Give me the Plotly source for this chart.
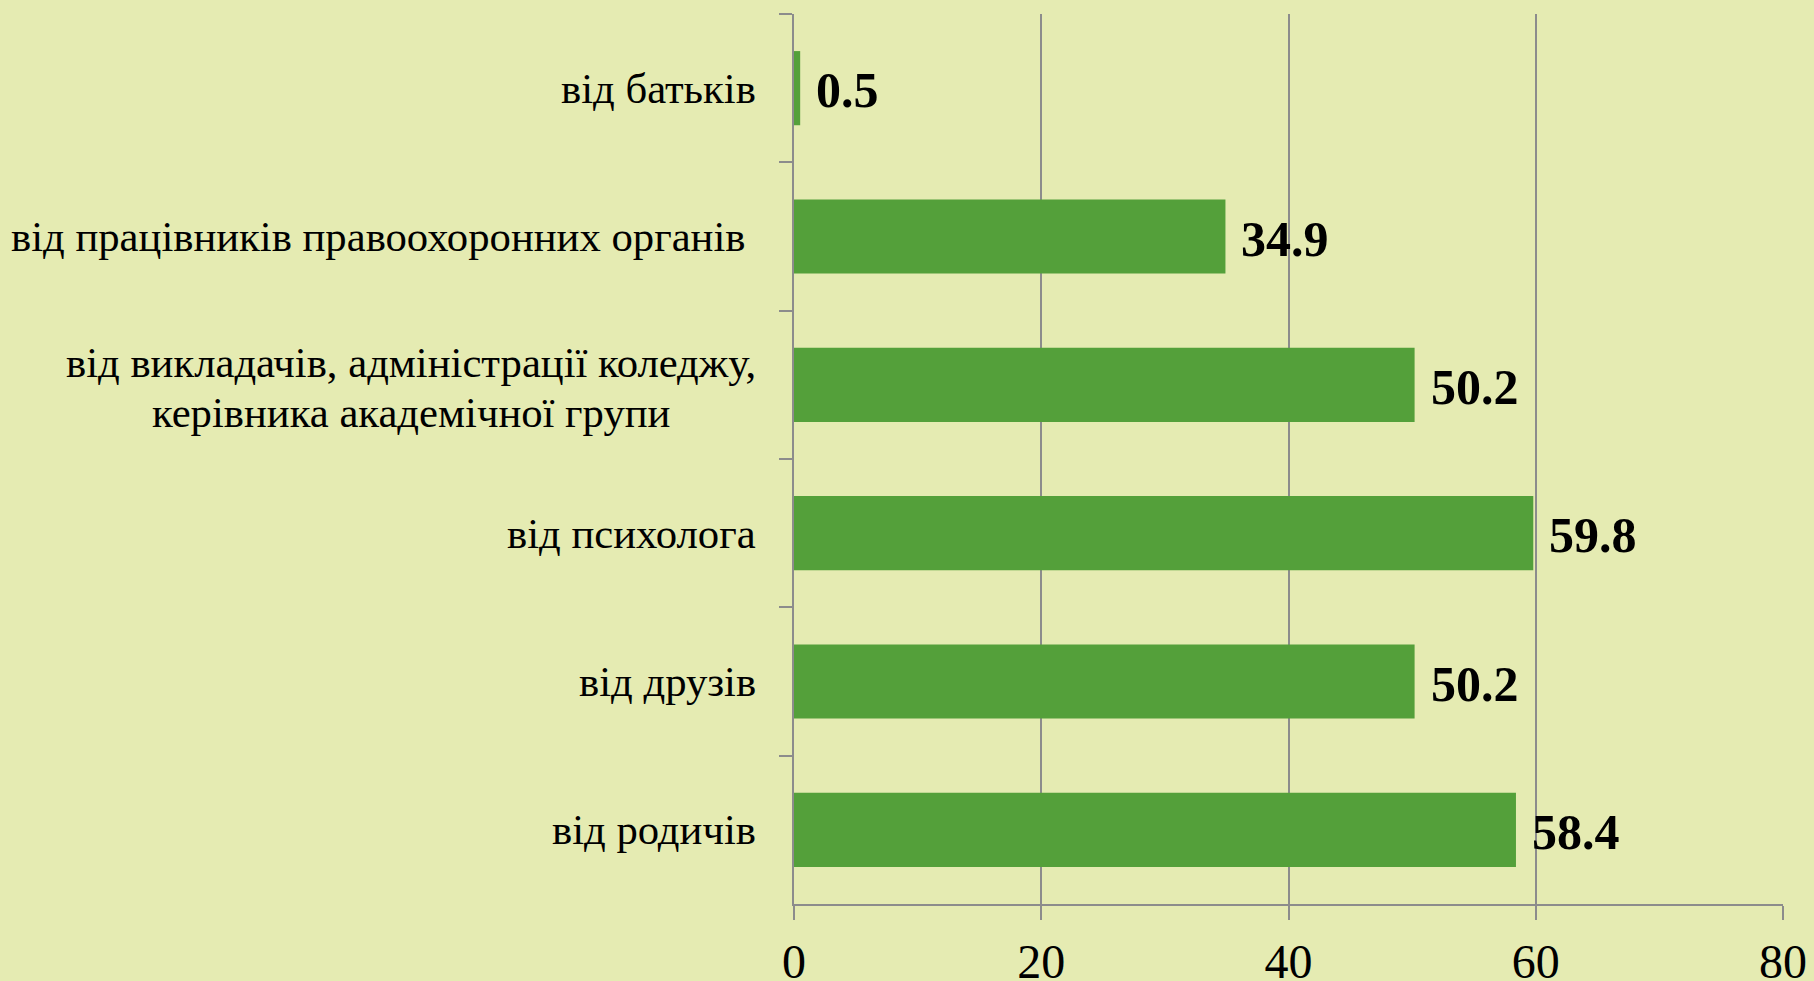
import plotly.graph_objects as go

categories = [
    "від батьків",
    "від працівників правоохоронних органів ",
    "від викладачів, адміністрації коледжу,<br>керівника академічної групи",
    "від психолога",
    "від друзів",
    "від родичів",
]
values = [0.5, 34.9, 50.2, 59.8, 50.2, 58.4]
x_ticks = [0, 20, 40, 60, 80]

BG = "#E5EBB2"
BAR = "#54A03A"
GRID = "#8C8C8C"
FONT = "Liberation Serif, Times New Roman, serif"

fig = go.Figure()
fig.add_trace(go.Bar(
    x=values, y=categories, orientation="h",
    marker=dict(color=BAR, line=dict(width=0)),
    hoverinfo="skip",
))

for c, v in zip(categories, values):
    fig.add_annotation(
        x=v, y=c, xref="x", yref="y", text=f"<b>{v:g}</b>",
        showarrow=False, xanchor="left", yanchor="middle", xshift=14, yshift=-2,
        font=dict(family=FONT, size=50, color="black"),
    )
    lines = c.split("<br>")
    n = len(lines)
    for i, line in enumerate(lines):
        shift = (-(i - (n - 1) / 2) * 50) - (3 if n > 1 else 0)
        fig.add_annotation(
            x=0, y=c, xref="paper", yref="y", text=line,
            showarrow=False, xanchor="center" if n > 1 else "right",
            yanchor="middle", xshift=(-383 if n > 1 else -36), yshift=shift,
            font=dict(family=FONT, size=42.7, color="black"),
        )

fig.update_layout(
    width=1814, height=981,
    paper_bgcolor=BG, plot_bgcolor=BG,
    margin=dict(l=794, r=31, t=14, b=77, autoexpand=False),
    bargap=0.5,
    showlegend=False,
    font=dict(family=FONT, color="black"),
)
fig.update_xaxes(
    range=[0, 80], tickvals=x_ticks, ticktext=[str(t) for t in x_ticks],
    showgrid=True, gridcolor=GRID, gridwidth=2,
    showline=True, linecolor=GRID, linewidth=2,
    ticks="outside", ticklen=14, tickcolor=GRID, tickwidth=2,
    zeroline=False, automargin=False,
    tickfont=dict(family=FONT, size=48, color="black"),
)
fig.update_yaxes(
    autorange="reversed", showticklabels=False,
    showline=True, linecolor=GRID, linewidth=2,
    ticks="outside", ticklen=13, tickcolor=GRID, tickwidth=2,
    tickson="boundaries", showgrid=False, automargin=False,
)

fig.write_html("out.html", config={"displayModeBar": False},
               post_script="document.body.style.margin='0';document.body.style.overflow='hidden';")
